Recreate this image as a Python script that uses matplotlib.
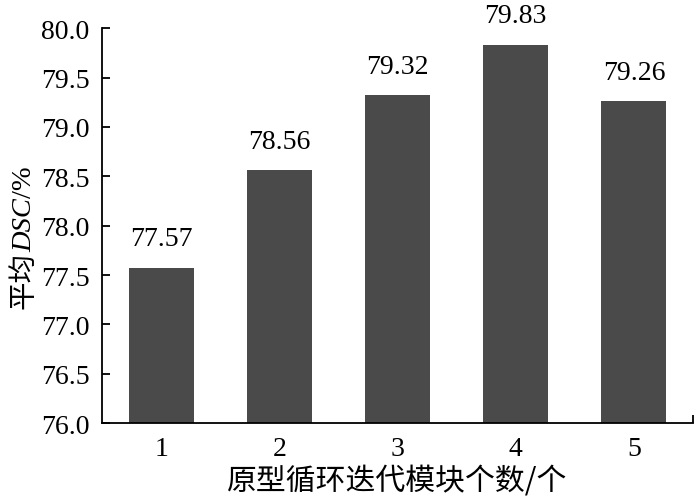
import matplotlib
matplotlib.use("Agg")
import matplotlib.pyplot as plt

# dados
categorias = [1, 2, 3, 4, 5]
dsc_medio = [77.57, 78.56, 79.32, 79.83, 79.26]
rotulos = ["77.57", "78.56", "79.32", "79.83", "79.26"]
yticks = [76.0, 76.5, 77.0, 77.5, 78.0, 78.5, 79.0, 79.5, 80.0]

plt.rcParams['font.family'] = ['Liberation Serif', 'Noto Sans CJK SC']

fig = plt.figure(figsize=(7, 5.02), dpi=100)
ax = fig.add_axes([0.146, 0.155, 0.844, 0.787])

ax.bar(categorias, dsc_medio, width=0.55, color='#4a4a4a', zorder=2)
for x, v, t in zip(categorias, dsc_medio, rotulos):
    ax.annotate(t, (x, v), xytext=(0, 12), textcoords='offset points',
                ha='center', va='bottom', fontsize=20)

ax.set_ylim(76.0, 80.0)
ax.set_xlim(0.5, 5.5)
ax.set_yticks(yticks)
ax.set_yticklabels([f"{v:.1f}" for v in yticks], fontsize=20)
ax.set_xticks(categorias)
ax.set_xticklabels([str(c) for c in categorias], fontsize=20)
ax.set_xticks([5.5], minor=True)
ax.tick_params(axis='both', direction='in', length=6, width=1.3, pad=9)
ax.tick_params(axis='x', which='minor', direction='in', length=6, width=1.3)

for s in ['top', 'right']:
    ax.spines[s].set_visible(False)
for s in ['left', 'bottom']:
    ax.spines[s].set_linewidth(1.3)

ax.set_xlabel("原型循环迭代模块个数/个", fontsize=21.5, labelpad=3,
              family=['Noto Sans CJK SC'])

# rótulo do eixo y em partes: 平均 + DSC (itálico) + /%
partes = [("平均", dict(family=['Noto Sans CJK SC'])),
          ("DSC", dict(family=['Liberation Serif'], style='italic')),
          ("/%", dict(family=['Liberation Serif']))]
textos = []
for s, kw in partes:
    textos.append(fig.text(0, 0, s, rotation=90, rotation_mode='anchor',
                           ha='left', va='baseline', fontsize=20.5, **kw))
fig.canvas.draw()
r = fig.canvas.get_renderer()
alturas = [t.get_window_extent(r).height for t in textos]
H = fig.get_figheight() * fig.dpi
total = sum(alturas)
y0 = 264 - total / 2  # centro em pixels a partir da base
xb = 31 / 700
for t, h in zip(textos, alturas):
    t.set_position((xb, y0 / H))
    y0 += h

fig.savefig("out.png", dpi=100)
